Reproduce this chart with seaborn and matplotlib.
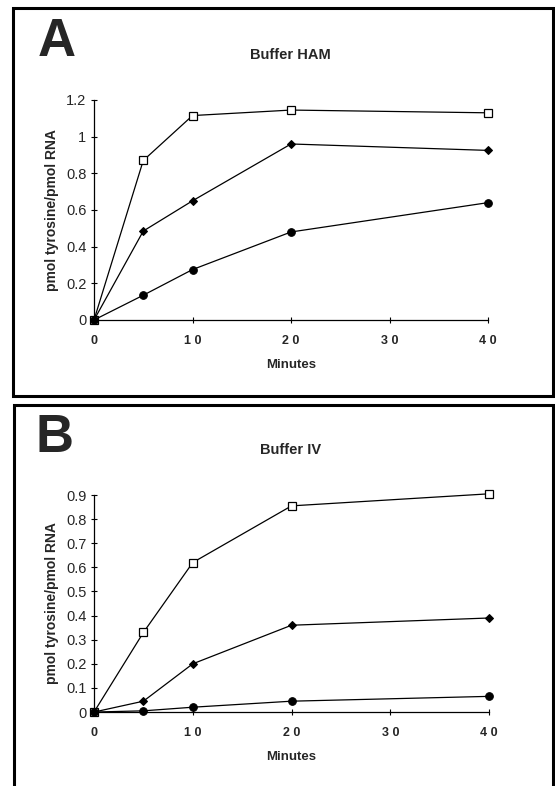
import numpy as np
import pandas as pd
import matplotlib
matplotlib.use("Agg")
import matplotlib.pyplot as plt
import seaborn as sns
from matplotlib.patches import Rectangle

# values
minutes = [0, 5, 10, 20, 40]

ham_square = [0, 0.87, 1.115, 1.145, 1.13]
ham_diamond = [0, 0.485, 0.65, 0.96, 0.925]
ham_circle = [0, 0.135, 0.275, 0.48, 0.64]

iv_square = [0, 0.33, 0.62, 0.855, 0.905]
iv_diamond = [0, 0.045, 0.20, 0.36, 0.39]
iv_circle = [0, 0.005, 0.02, 0.045, 0.065]

ham_yticks = [0, 0.2, 0.4, 0.6, 0.8, 1, 1.2]
ham_yticklabels = ["0", "0.2", "0.4", "0.6", "0.8", "1", "1.2"]
iv_yticks = [0, 0.1, 0.2, 0.3, 0.4, 0.5, 0.6, 0.7, 0.8, 0.9]
iv_yticklabels = ["0", "0.1", "0.2", "0.3", "0.4", "0.5", "0.6", "0.7", "0.8", "0.9"]
xticks = [0, 10, 20, 30, 40]

sns.set_theme(style="ticks")
plt.rcParams['font.family'] = ['Liberation Sans', 'DejaVu Sans']

fig = plt.figure(figsize=(5.55, 7.86), dpi=100)

# panel frames
fig.patches.append(Rectangle((0.0234, 0.4962), 0.9726, 0.4936, transform=fig.transFigure,
                             fill=False, edgecolor="black", linewidth=2.2))
fig.patches.append(Rectangle((0.0252, -0.05), 0.9708, 0.5347, transform=fig.transFigure,
                             fill=False, edgecolor="black", linewidth=2.2))

markers = {"square": dict(marker="s", markerfacecolor="white", markeredgecolor="black",
                          markersize=5.5, markeredgewidth=0.9),
           "diamond": dict(marker="D", markerfacecolor="black", markeredgecolor="black",
                           markersize=4.2),
           "circle": dict(marker="o", markerfacecolor="black", markeredgecolor="black",
                          markersize=5.5)}


def panel(rect, series, ymax, yticks, yticklabels, title, letter, letter_xy, title_y):
    ax = fig.add_axes(rect)
    for name, vals in series:
        df = pd.DataFrame({"Minutes": minutes, "value": vals})
        sns.lineplot(data=df, x="Minutes", y="value", ax=ax, color="black",
                     linewidth=0.9, clip_on=False, zorder=3, **markers[name])
    ax.set_xlim(0, 40)
    ax.set_ylim(0, ymax)
    ax.set_xticks(xticks)
    ax.set_xticklabels([" ".join(str(t)) for t in xticks], fontsize=9, fontweight="bold")
    ax.set_yticks(yticks)
    ax.set_yticklabels(yticklabels, fontsize=10.5)
    ax.tick_params(axis="both", direction="inout", length=5, width=0.8, color="black")
    ax.tick_params(axis="x", pad=8)
    ax.tick_params(axis="y", pad=3)
    sns.despine(ax=ax)
    for s in ["left", "bottom"]:
        ax.spines[s].set_linewidth(0.9)
        ax.spines[s].set_color("black")
    ax.set_xlabel("Minutes", fontsize=9.5, fontweight="bold", labelpad=9)
    ax.set_ylabel("pmol tyrosine/pmol RNA", fontsize=10, fontweight="bold", labelpad=5)
    ax.patch.set_alpha(0)
    fig.text(0.523, title_y, title, ha="center", va="center", fontsize=10.5, fontweight="bold")
    fig.text(letter_xy[0], letter_xy[1], letter, ha="center", va="center",
             fontsize=38, fontweight="bold")
    return ax


panel([0.1694, 0.5929, 0.7099, 0.2799],
      [("square", ham_square), ("diamond", ham_diamond), ("circle", ham_circle)],
      1.2, ham_yticks, ham_yticklabels, "Buffer HAM", "A", (0.103, 0.9465), 0.930)
panel([0.1694, 0.0941, 0.7117, 0.2761],
      [("square", iv_square), ("diamond", iv_diamond), ("circle", iv_circle)],
      0.9, iv_yticks, iv_yticklabels, "Buffer IV", "B", (0.099, 0.443), 0.4275)

fig.savefig("out.png", dpi=100, facecolor="white")
